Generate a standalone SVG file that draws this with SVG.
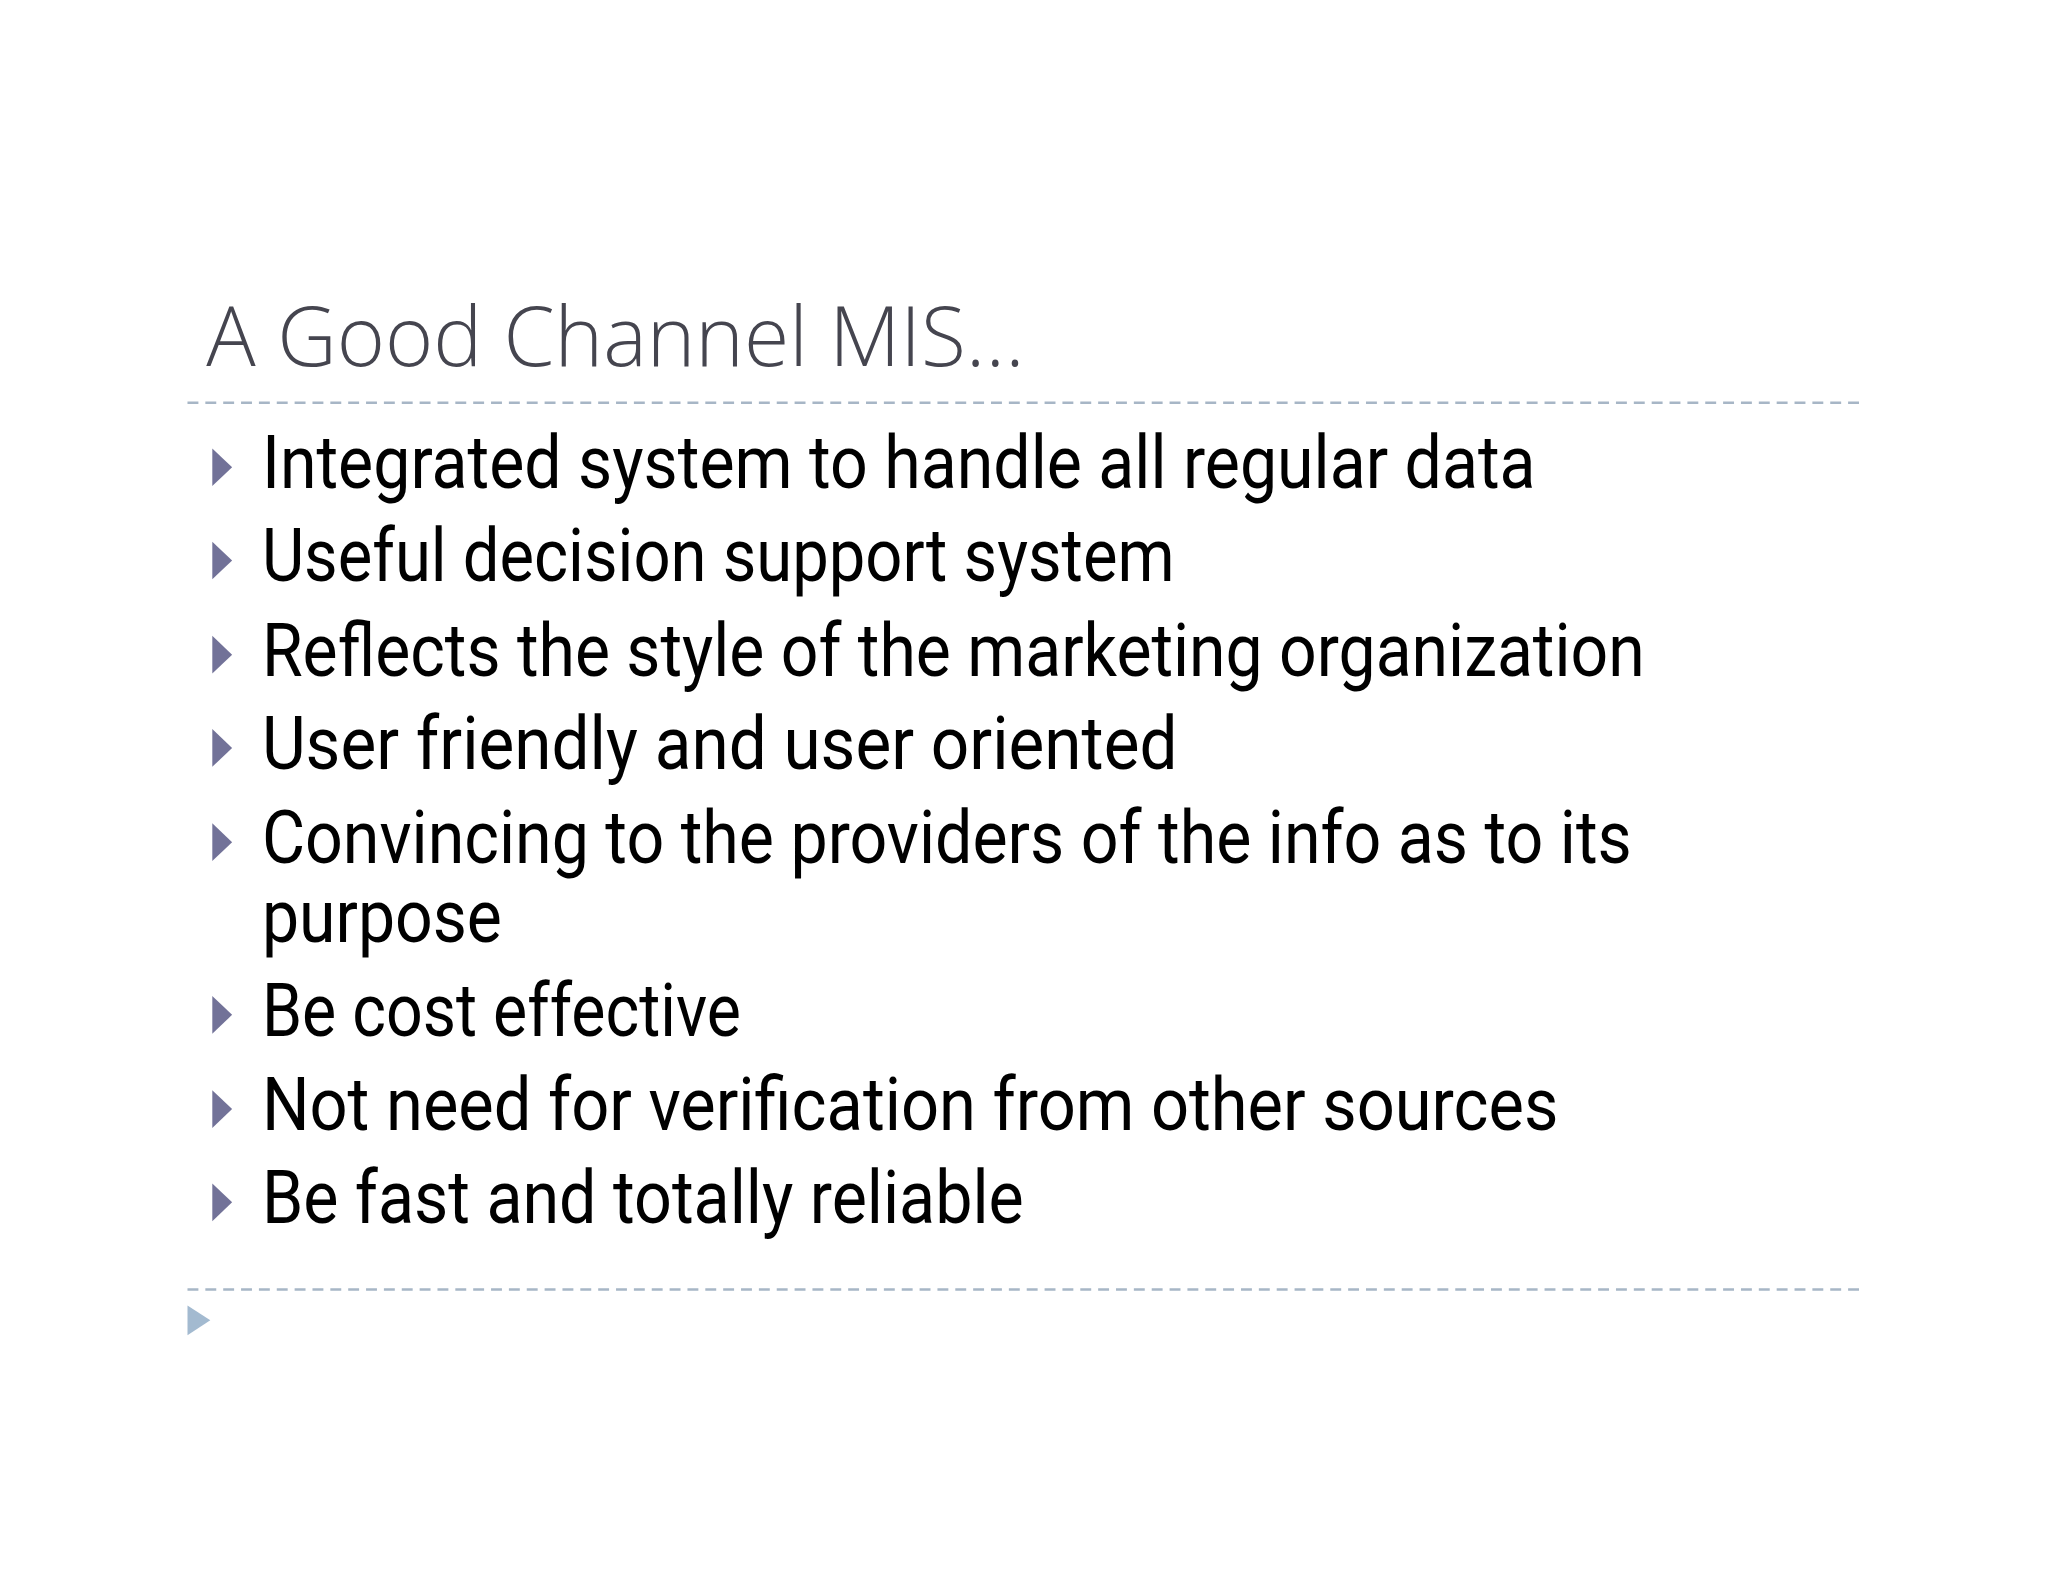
<svg xmlns="http://www.w3.org/2000/svg" width="2048" height="1582" viewBox="0 0 2048 1582">
<style>
.t{font-family:"Open Sans","Liberation Sans",sans-serif;font-weight:300;font-size:84px;fill:#45454f}
.b{font-family:Roboto,"Liberation Sans",sans-serif;font-size:74px;fill:#000}
.d{stroke:#a7b6c6;stroke-width:2.5;stroke-dasharray:11 7;fill:none}
.m{fill:#727298}
</style>
<rect width="2048" height="1582" fill="#fff"/>
<g transform="scale(0.992)">
<g id="title"><text class="t" x="208" y="369" textLength="825" lengthAdjust="spacingAndGlyphs">A Good Channel MIS…</text></g>
<g id="rules"><line class="d" x1="189" y1="406" x2="1881" y2="406"/><line class="d" x1="189" y1="1300" x2="1881" y2="1300"/></g>
<g id="bullets">
<polygon class="m" points="214,452 234,471 214,490"/>
<polygon class="m" points="214,546 234,565 214,584"/>
<polygon class="m" points="214,641 234,660 214,679"/>
<polygon class="m" points="214,735 234,754 214,773"/>
<polygon class="m" points="214,830 234,849 214,868"/>
<polygon class="m" points="214,1004 234,1023 214,1042"/>
<polygon class="m" points="214,1099 234,1118 214,1137"/>
<polygon class="m" points="214,1193 234,1212 214,1231"/>
<polygon fill="#a3bad0" points="189,1316 212,1331 189,1346"/>
</g>
<g id="items">
<text class="b" x="264" y="492" textLength="1284" lengthAdjust="spacingAndGlyphs">Integrated system to handle all regular data</text>
<text class="b" x="264" y="586" textLength="920" lengthAdjust="spacingAndGlyphs">Useful decision support system</text>
<text class="b" x="264" y="681" textLength="1394" lengthAdjust="spacingAndGlyphs">Reflects the style of the marketing organization</text>
<text class="b" x="264" y="775" textLength="923" lengthAdjust="spacingAndGlyphs">User friendly and user oriented</text>
<text class="b" x="264" y="870" textLength="1381" lengthAdjust="spacingAndGlyphs">Convincing to the providers of the info as to its</text>
<text class="b" x="264" y="950" textLength="242" lengthAdjust="spacingAndGlyphs">purpose</text>
<text class="b" x="264" y="1044" textLength="483" lengthAdjust="spacingAndGlyphs">Be cost effective</text>
<text class="b" x="264" y="1139" textLength="1307" lengthAdjust="spacingAndGlyphs">Not need for verification from other sources</text>
<text class="b" x="264" y="1233" textLength="768" lengthAdjust="spacingAndGlyphs">Be fast and totally reliable</text>
</g>
</g>
</svg>
